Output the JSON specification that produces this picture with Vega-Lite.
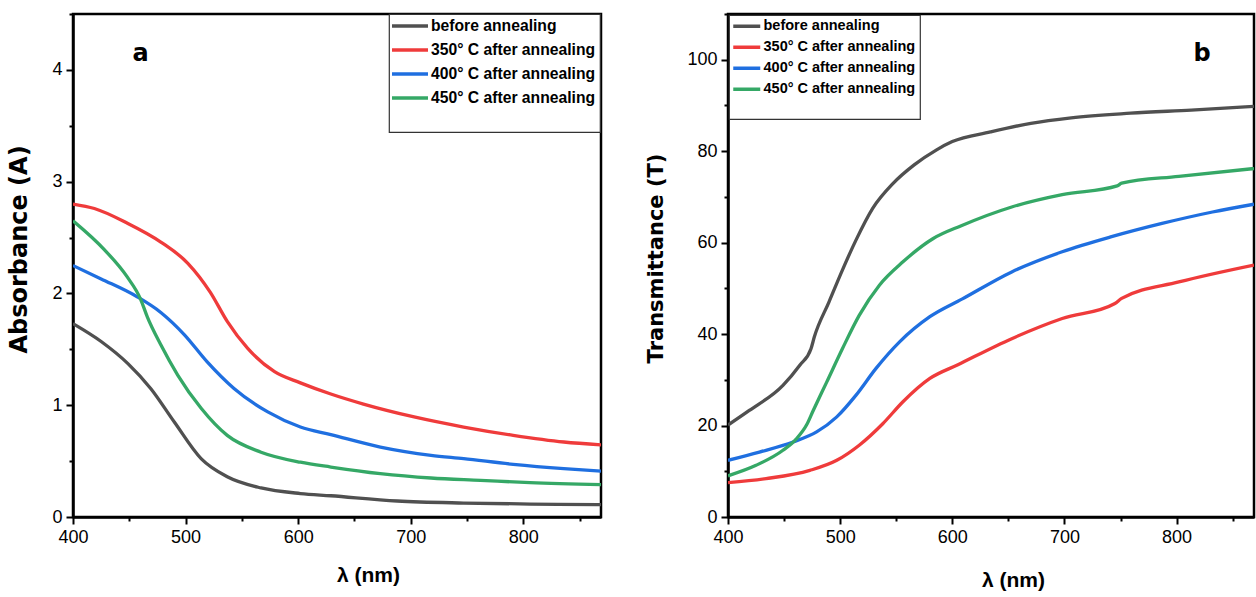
{
  "$schema": "https://vega.github.io/schema/vega-lite/v6.json",
  "padding": {"left": 6, "top": 11, "right": 2, "bottom": 2},
  "background": "white",
  "datasets": {
    "abs": [
      {"series": "before annealing", "wl": 400, "v": 1.73},
      {"series": "before annealing", "wl": 425, "v": 1.57},
      {"series": "before annealing", "wl": 449, "v": 1.37},
      {"series": "before annealing", "wl": 469, "v": 1.15},
      {"series": "before annealing", "wl": 490, "v": 0.85},
      {"series": "before annealing", "wl": 514, "v": 0.52},
      {"series": "before annealing", "wl": 537, "v": 0.36},
      {"series": "before annealing", "wl": 567, "v": 0.26},
      {"series": "before annealing", "wl": 602, "v": 0.21},
      {"series": "before annealing", "wl": 629, "v": 0.19},
      {"series": "before annealing", "wl": 688, "v": 0.143},
      {"series": "before annealing", "wl": 747, "v": 0.125},
      {"series": "before annealing", "wl": 806, "v": 0.116},
      {"series": "before annealing", "wl": 869, "v": 0.11},
      {"series": "350° C after annealing", "wl": 400, "v": 2.8},
      {"series": "350° C after annealing", "wl": 419, "v": 2.76},
      {"series": "350° C after annealing", "wl": 448, "v": 2.63},
      {"series": "350° C after annealing", "wl": 478, "v": 2.46},
      {"series": "350° C after annealing", "wl": 502, "v": 2.27},
      {"series": "350° C after annealing", "wl": 522, "v": 2.01},
      {"series": "350° C after annealing", "wl": 537, "v": 1.75},
      {"series": "350° C after annealing", "wl": 555, "v": 1.51},
      {"series": "350° C after annealing", "wl": 579, "v": 1.3},
      {"series": "350° C after annealing", "wl": 602, "v": 1.2},
      {"series": "350° C after annealing", "wl": 629, "v": 1.1},
      {"series": "350° C after annealing", "wl": 658, "v": 1.01},
      {"series": "350° C after annealing", "wl": 703, "v": 0.895},
      {"series": "350° C after annealing", "wl": 747, "v": 0.805},
      {"series": "350° C after annealing", "wl": 791, "v": 0.731},
      {"series": "350° C after annealing", "wl": 836, "v": 0.671},
      {"series": "350° C after annealing", "wl": 869, "v": 0.645},
      {"series": "400° C after annealing", "wl": 400, "v": 2.25},
      {"series": "400° C after annealing", "wl": 425, "v": 2.13},
      {"series": "400° C after annealing", "wl": 457, "v": 1.97},
      {"series": "400° C after annealing", "wl": 478, "v": 1.83},
      {"series": "400° C after annealing", "wl": 499, "v": 1.63},
      {"series": "400° C after annealing", "wl": 519, "v": 1.39},
      {"series": "400° C after annealing", "wl": 543, "v": 1.15},
      {"series": "400° C after annealing", "wl": 573, "v": 0.94},
      {"series": "400° C after annealing", "wl": 602, "v": 0.805},
      {"series": "400° C after annealing", "wl": 629, "v": 0.737},
      {"series": "400° C after annealing", "wl": 673, "v": 0.626},
      {"series": "400° C after annealing", "wl": 718, "v": 0.552},
      {"series": "400° C after annealing", "wl": 747, "v": 0.522},
      {"series": "400° C after annealing", "wl": 791, "v": 0.471},
      {"series": "400° C after annealing", "wl": 836, "v": 0.432},
      {"series": "400° C after annealing", "wl": 869, "v": 0.41},
      {"series": "450° C after annealing", "wl": 400, "v": 2.65},
      {"series": "450° C after annealing", "wl": 428, "v": 2.39},
      {"series": "450° C after annealing", "wl": 448, "v": 2.15},
      {"series": "450° C after annealing", "wl": 460, "v": 1.95},
      {"series": "450° C after annealing", "wl": 466, "v": 1.79},
      {"series": "450° C after annealing", "wl": 478, "v": 1.54},
      {"series": "450° C after annealing", "wl": 493, "v": 1.27},
      {"series": "450° C after annealing", "wl": 514, "v": 0.97},
      {"series": "450° C after annealing", "wl": 537, "v": 0.73},
      {"series": "450° C after annealing", "wl": 567, "v": 0.58},
      {"series": "450° C after annealing", "wl": 602, "v": 0.49},
      {"series": "450° C after annealing", "wl": 629, "v": 0.447},
      {"series": "450° C after annealing", "wl": 673, "v": 0.388},
      {"series": "450° C after annealing", "wl": 718, "v": 0.349},
      {"series": "450° C after annealing", "wl": 762, "v": 0.328},
      {"series": "450° C after annealing", "wl": 806, "v": 0.307},
      {"series": "450° C after annealing", "wl": 869, "v": 0.29}
    ],
    "trans": [
      {"series": "before annealing", "wl": 400, "v": 20.1},
      {"series": "before annealing", "wl": 419, "v": 23.3},
      {"series": "before annealing", "wl": 449, "v": 28.8},
      {"series": "before annealing", "wl": 464, "v": 33.2},
      {"series": "before annealing", "wl": 474, "v": 36.8},
      {"series": "before annealing", "wl": 477, "v": 39.4},
      {"series": "before annealing", "wl": 490, "v": 47.0},
      {"series": "before annealing", "wl": 502, "v": 54.0},
      {"series": "before annealing", "wl": 514, "v": 60.5},
      {"series": "before annealing", "wl": 529, "v": 67.5},
      {"series": "before annealing", "wl": 547, "v": 72.9},
      {"series": "before annealing", "wl": 566, "v": 77.0},
      {"series": "before annealing", "wl": 586, "v": 80.3},
      {"series": "before annealing", "wl": 600, "v": 82.1},
      {"series": "before annealing", "wl": 634, "v": 84.2},
      {"series": "before annealing", "wl": 670, "v": 86.1},
      {"series": "before annealing", "wl": 706, "v": 87.3},
      {"series": "before annealing", "wl": 759, "v": 88.3},
      {"series": "before annealing", "wl": 813, "v": 89.0},
      {"series": "before annealing", "wl": 869, "v": 89.8},
      {"series": "350° C after annealing", "wl": 400, "v": 7.5},
      {"series": "350° C after annealing", "wl": 434, "v": 8.4},
      {"series": "350° C after annealing", "wl": 473, "v": 10.2},
      {"series": "350° C after annealing", "wl": 497, "v": 12.4},
      {"series": "350° C after annealing", "wl": 517, "v": 15.7},
      {"series": "350° C after annealing", "wl": 538, "v": 20.4},
      {"series": "350° C after annealing", "wl": 556, "v": 25.2},
      {"series": "350° C after annealing", "wl": 580, "v": 30.3},
      {"series": "350° C after annealing", "wl": 605, "v": 33.3},
      {"series": "350° C after annealing", "wl": 653, "v": 39.0},
      {"series": "350° C after annealing", "wl": 698, "v": 43.4},
      {"series": "350° C after annealing", "wl": 745, "v": 46.7},
      {"series": "350° C after annealing", "wl": 751, "v": 47.8},
      {"series": "350° C after annealing", "wl": 802, "v": 51.4},
      {"series": "350° C after annealing", "wl": 869, "v": 55.1},
      {"series": "400° C after annealing", "wl": 400, "v": 12.4},
      {"series": "400° C after annealing", "wl": 428, "v": 14.2},
      {"series": "400° C after annealing", "wl": 458, "v": 16.4},
      {"series": "400° C after annealing", "wl": 479, "v": 18.6},
      {"series": "400° C after annealing", "wl": 497, "v": 21.9},
      {"series": "400° C after annealing", "wl": 514, "v": 26.6},
      {"series": "400° C after annealing", "wl": 532, "v": 32.5},
      {"series": "400° C after annealing", "wl": 553, "v": 38.3},
      {"series": "400° C after annealing", "wl": 580, "v": 43.8},
      {"series": "400° C after annealing", "wl": 609, "v": 47.7},
      {"series": "400° C after annealing", "wl": 653, "v": 53.6},
      {"series": "400° C after annealing", "wl": 698, "v": 58.0},
      {"series": "400° C after annealing", "wl": 742, "v": 61.3},
      {"series": "400° C after annealing", "wl": 787, "v": 64.2},
      {"series": "400° C after annealing", "wl": 832, "v": 66.7},
      {"series": "400° C after annealing", "wl": 869, "v": 68.4},
      {"series": "450° C after annealing", "wl": 400, "v": 9.0},
      {"series": "450° C after annealing", "wl": 425, "v": 11.3},
      {"series": "450° C after annealing", "wl": 449, "v": 14.6},
      {"series": "450° C after annealing", "wl": 461, "v": 17.1},
      {"series": "450° C after annealing", "wl": 470, "v": 20.1},
      {"series": "450° C after annealing", "wl": 476, "v": 23.3},
      {"series": "450° C after annealing", "wl": 488, "v": 29.5},
      {"series": "450° C after annealing", "wl": 502, "v": 36.8},
      {"series": "450° C after annealing", "wl": 517, "v": 44.1},
      {"series": "450° C after annealing", "wl": 535, "v": 50.7},
      {"series": "450° C after annealing", "wl": 556, "v": 55.8},
      {"series": "450° C after annealing", "wl": 583, "v": 60.9},
      {"series": "450° C after annealing", "wl": 608, "v": 63.7},
      {"series": "450° C after annealing", "wl": 653, "v": 67.8},
      {"series": "450° C after annealing", "wl": 698, "v": 70.5},
      {"series": "450° C after annealing", "wl": 747, "v": 72.4},
      {"series": "450° C after annealing", "wl": 751, "v": 73.0},
      {"series": "450° C after annealing", "wl": 802, "v": 74.5},
      {"series": "450° C after annealing", "wl": 869, "v": 76.2}
    ],
    "labels": [
      {"panel": "a", "wl": 460, "v": 4.14},
      {"panel": "b", "wl": 822.7, "v": 101.3}
    ]
  },
  "hconcat": [
    {
      "width": 528,
      "height": 503,
      "layer": [
        {
          "data": {"name": "abs"},
          "mark": {"type": "line", "strokeWidth": 3.3, "interpolate": "monotone", "clip": true},
          "encoding": {
            "x": {"field": "wl", "type": "quantitative", "scale": {"domain": [400, 869], "nice": false, "zero": false},
              "axis": {"title": "λ (nm)", "titleX": 295, "titlePadding": 18, "values": [400, 450, 500, 550, 600, 650, 700, 750, 800, 850],
                "labelExpr": "datum.value % 100 === 0 ? format(datum.value, 'd') : ''",
                "tickSize": {"condition": {"test": "datum.value % 100 === 0", "value": 7}, "value": 4}}},
            "y": {"field": "v", "type": "quantitative", "scale": {"domain": [0, 4.5], "nice": false},
              "axis": {"title": "Absorbance (A)", "titleFontSize": 24, "titleY": 235, "values": [0, 0.5, 1, 1.5, 2, 2.5, 3, 3.5, 4, 4.5],
                "labelExpr": "datum.value % 1 === 0 && datum.value < 4.5 ? format(datum.value, 'd') : ''",
                "tickSize": {"condition": {"test": "datum.value % 1 === 0", "value": 7}, "value": 4}}},
            "color": {"field": "series", "type": "nominal",
              "scale": {"domain": ["before annealing", "350° C after annealing", "400° C after annealing", "450° C after annealing"], "range": ["#505050", "#ef3b3b", "#1f6fe0", "#35a866"]},
              "legend": {"title": " ", "titleOrient": "bottom", "titleFontSize": 14, "titlePadding": 8, "orient": "none", "legendX": 316, "legendY": 0,
                "labelFontSize": 15.7, "symbolType": "M-1.5,0H4.5", "symbolSize": 144, "rowPadding": 8, "padding": 4, "labelOffset": 22}}
          }
        },
        {
          "data": {"name": "labels"},
          "transform": [{"filter": "datum.panel === 'a'"}],
          "mark": {"type": "text", "font": "DejaVu Sans", "fontWeight": "bold", "fontSize": 24, "color": "black", "baseline": "middle", "align": "center"},
          "encoding": {"x": {"field": "wl", "type": "quantitative"}, "y": {"field": "v", "type": "quantitative"}, "text": {"field": "panel"}}
        }
      ]
    },
    {
      "width": 526,
      "height": 503,
      "layer": [
        {
          "data": {"name": "trans"},
          "mark": {"type": "line", "strokeWidth": 3.3, "interpolate": "monotone", "clip": true},
          "encoding": {
            "x": {"field": "wl", "type": "quantitative", "scale": {"domain": [400, 869], "nice": false, "zero": false},
              "axis": {"title": "λ (nm)", "titleX": 285, "titlePadding": 23, "values": [400, 450, 500, 550, 600, 650, 700, 750, 800, 850],
                "labelExpr": "datum.value % 100 === 0 ? format(datum.value, 'd') : ''",
                "tickSize": {"condition": {"test": "datum.value % 100 === 0", "value": 7}, "value": 4}}},
            "y": {"field": "v", "type": "quantitative", "scale": {"domain": [0, 110], "nice": false},
              "axis": {"title": "Transmittance (T)", "titleFontSize": 21, "titleY": 244, "values": [0, 10, 20, 30, 40, 50, 60, 70, 80, 90, 100, 110],
                "labelExpr": "datum.value % 20 === 0 ? format(datum.value, 'd') : ''",
                "tickSize": {"condition": {"test": "datum.value % 20 === 0", "value": 7}, "value": 4}}},
            "color": {"field": "series", "type": "nominal",
              "scale": {"domain": ["before annealing", "350° C after annealing", "400° C after annealing", "450° C after annealing"], "range": ["#505050", "#ef3b3b", "#1f6fe0", "#35a866"]},
              "legend": {"title": " ", "titleOrient": "bottom", "titleFontSize": 13, "titlePadding": 6, "orient": "none", "legendX": 1, "legendY": 1,
                "labelFontSize": 14.5, "symbolType": "M-1.4,0H4", "symbolSize": 100, "rowPadding": 5, "padding": 4, "labelOffset": 16}}
          }
        },
        {
          "data": {"name": "labels"},
          "transform": [{"filter": "datum.panel === 'b'"}],
          "mark": {"type": "text", "font": "DejaVu Sans", "fontWeight": "bold", "fontSize": 24, "color": "black", "baseline": "middle", "align": "center"},
          "encoding": {"x": {"field": "wl", "type": "quantitative"}, "y": {"field": "v", "type": "quantitative"}, "text": {"field": "panel"}}
        }
      ]
    }
  ],
  "spacing": 41,
  "resolve": {"scale": {"color": "independent"}, "legend": {"color": "independent"}},
  "config": {
    "view": {"stroke": "black", "strokeWidth": 2.5},
    "axis": {
      "grid": false,
      "labelFlush": false,
      "domainColor": "black", "domainWidth": 2.5,
      "tickColor": "black", "tickWidth": 2,
      "labelFont": "Liberation Sans", "labelFontSize": 18, "labelColor": "black", "labelPadding": 4,
      "titleFont": "DejaVu Sans", "titleFontWeight": "bold", "titleFontSize": 20, "titleColor": "black"
    },
    "axisX": {"titleFont": "Liberation Sans", "titleFontSize": 21},
    "axisY": {"titlePadding": 20},
    "legend": {
      "symbolStrokeWidth": 3.5,
      "labelFont": "Liberation Sans", "labelFontWeight": "bold", "labelColor": "black",
      "strokeColor": "#333", "strokeWidth": 1.2, "fillColor": "white", "labelLimit": 400
    }
  }
}
